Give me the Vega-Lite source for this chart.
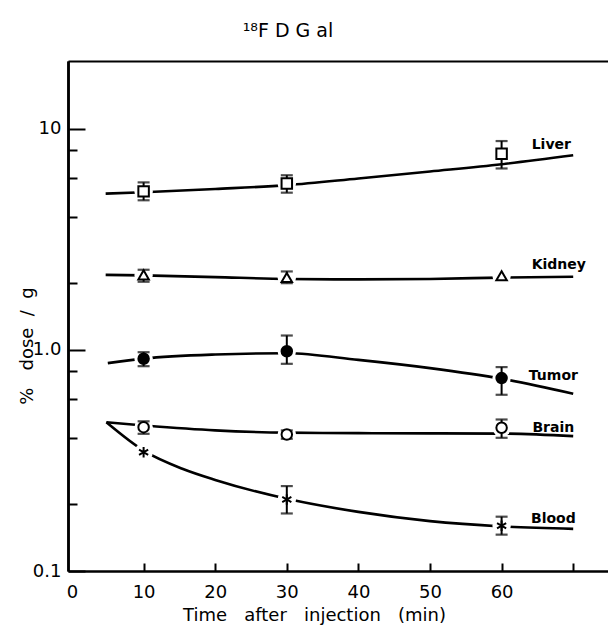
{
  "$schema": "https://vega.github.io/schema/vega-lite/v6.json",
  "width": 540,
  "height": 510,
  "autosize": {"type": "none"},
  "padding": {"left": 68, "top": 61, "right": 0, "bottom": 60},
  "background": "white",
  "title": {"text": "¹⁸F\u00a0D\u00a0G\u00a0al", "font": "DejaVu Sans", "fontSize": 19, "fontWeight": "normal", "color": "black", "anchor": "middle", "dx": -50, "offset": 5, "baseline": "alphabetic"},
  "datasets": {
    "curves": [
      {"organ": "Liver", "t": 4.7, "v": 5.08}, {"organ": "Liver", "t": 10, "v": 5.15}, {"organ": "Liver", "t": 20, "v": 5.33}, {"organ": "Liver", "t": 30, "v": 5.55}, {"organ": "Liver", "t": 40, "v": 5.95}, {"organ": "Liver", "t": 50, "v": 6.4}, {"organ": "Liver", "t": 60, "v": 6.9}, {"organ": "Liver", "t": 70, "v": 7.57},
      {"organ": "Kidney", "t": 4.7, "v": 2.18}, {"organ": "Kidney", "t": 10, "v": 2.17}, {"organ": "Kidney", "t": 20, "v": 2.13}, {"organ": "Kidney", "t": 30, "v": 2.09}, {"organ": "Kidney", "t": 40, "v": 2.08}, {"organ": "Kidney", "t": 50, "v": 2.09}, {"organ": "Kidney", "t": 60, "v": 2.12}, {"organ": "Kidney", "t": 70, "v": 2.14},
      {"organ": "Tumor", "t": 5, "v": 0.87}, {"organ": "Tumor", "t": 10, "v": 0.912}, {"organ": "Tumor", "t": 20, "v": 0.952}, {"organ": "Tumor", "t": 30, "v": 0.965}, {"organ": "Tumor", "t": 40, "v": 0.9}, {"organ": "Tumor", "t": 50, "v": 0.826}, {"organ": "Tumor", "t": 60, "v": 0.74}, {"organ": "Tumor", "t": 70, "v": 0.633},
      {"organ": "Brain", "t": 4.8, "v": 0.47}, {"organ": "Brain", "t": 10, "v": 0.455}, {"organ": "Brain", "t": 20, "v": 0.432}, {"organ": "Brain", "t": 30, "v": 0.422}, {"organ": "Brain", "t": 40, "v": 0.42}, {"organ": "Brain", "t": 50, "v": 0.419}, {"organ": "Brain", "t": 60, "v": 0.418}, {"organ": "Brain", "t": 70, "v": 0.407},
      {"organ": "Blood", "t": 4.8, "v": 0.47}, {"organ": "Blood", "t": 10, "v": 0.35}, {"organ": "Blood", "t": 15.5, "v": 0.289}, {"organ": "Blood", "t": 20, "v": 0.258}, {"organ": "Blood", "t": 30, "v": 0.212}, {"organ": "Blood", "t": 40, "v": 0.185}, {"organ": "Blood", "t": 50, "v": 0.168}, {"organ": "Blood", "t": 60, "v": 0.159}, {"organ": "Blood", "t": 70, "v": 0.155}
    ],
    "points": [
      {"organ": "Liver", "t": 10, "v": 5.2, "lo": 4.74, "hi": 5.71},
      {"organ": "Liver", "t": 30, "v": 5.65, "lo": 5.13, "hi": 6.15},
      {"organ": "Liver", "t": 60, "v": 7.7, "lo": 6.6, "hi": 8.78},
      {"organ": "Kidney", "t": 10, "v": 2.18, "lo": 2.03, "hi": 2.3},
      {"organ": "Kidney", "t": 30, "v": 2.12, "lo": 2.0, "hi": 2.26},
      {"organ": "Kidney", "t": 60, "v": 2.16, "lo": null, "hi": null},
      {"organ": "Tumor", "t": 10, "v": 0.911, "lo": 0.843, "hi": 0.975},
      {"organ": "Tumor", "t": 30, "v": 0.985, "lo": 0.864, "hi": 1.16},
      {"organ": "Tumor", "t": 60, "v": 0.745, "lo": 0.626, "hi": 0.835},
      {"organ": "Brain", "t": 10, "v": 0.447, "lo": 0.417, "hi": 0.475},
      {"organ": "Brain", "t": 30, "v": 0.414, "lo": 0.396, "hi": 0.432},
      {"organ": "Brain", "t": 60, "v": 0.444, "lo": 0.4, "hi": 0.484},
      {"organ": "Blood", "t": 10, "v": 0.344, "lo": null, "hi": null},
      {"organ": "Blood", "t": 30, "v": 0.2105, "lo": 0.182, "hi": 0.242},
      {"organ": "Blood", "t": 60, "v": 0.16, "lo": 0.146, "hi": 0.176}
    ],
    "labels": [
      {"organ": "Liver", "t": 64.2, "v": 8.4},
      {"organ": "Kidney", "t": 64.2, "v": 2.41},
      {"organ": "Tumor", "t": 63.8, "v": 0.758},
      {"organ": "Brain", "t": 64.3, "v": 0.443},
      {"organ": "Blood", "t": 64.1, "v": 0.172}
    ]
  },
  "layer": [
    {
      "data": {"name": "curves"},
      "mark": {"type": "line", "color": "black", "strokeWidth": 2.6, "interpolate": "monotone"},
      "encoding": {
        "x": {"field": "t", "type": "quantitative", "scale": {"domain": [-0.56, 74.86], "nice": false, "zero": false},
          "axis": {"orient": "bottom", "values": [0, 10, 20, 30, 40, 50, 60, 70], "labelExpr": "datum.value == 70 ? '' : datum.label", "tickSize": -8, "tickWidth": 2, "tickOpacity": {"condition": {"test": "datum.value == 0", "value": 0}, "value": 1}, "labelPadding": 20, "labelBaseline": "top", "domainWidth": 2.5, "title": "Time\u00a0\u00a0\u00a0after\u00a0\u00a0\u00a0injection\u00a0\u00a0\u00a0(min)", "titleX": 246, "titleY": 44, "titleBaseline": "middle", "titleAlign": "center"}},
        "y": {"field": "v", "type": "quantitative", "scale": {"type": "log", "domain": [0.1, 20.2], "nice": false},
          "axis": {"orient": "left", "values": [0.2, 0.4, 0.6, 0.8, 2, 4, 6, 8], "labels": false, "tickSize": -9, "tickWidth": 2, "domainWidth": 2.5, "title": "%\u00a0\u00a0\u00a0dose\u00a0\u00a0/\u00a0\u00a0g", "titleX": -41, "titleY": 284.5, "titleAngle": 270, "titleBaseline": "middle", "titleAlign": "center"}},
        "detail": {"field": "organ"}
      }
    },
    {
      "data": {"name": "points"},
      "mark": {"type": "point", "shape": "circle", "filled": true, "color": "white", "size": 340, "opacity": 1},
      "encoding": {
        "x": {"field": "t", "type": "quantitative", "axis": {"orient": "top", "labels": false, "ticks": false, "title": null, "domainWidth": 2, "domainColor": "black"}},
        "y": {"field": "v", "type": "quantitative", "axis": {"orient": "left", "values": [0.1, 1, 10], "labelExpr": "datum.value == 1 ? '1.0' : datum.label", "tickSize": -17, "tickWidth": 2, "labelPadding": 24, "domainWidth": 2.5, "title": null}}
      }
    },
    {
      "data": {"name": "points"},
      "transform": [{"filter": "isValid(datum.lo)"}],
      "mark": {"type": "rule", "color": "black", "strokeWidth": 2},
      "encoding": {
        "x": {"field": "t", "type": "quantitative", "axis": null},
        "y": {"field": "lo", "type": "quantitative", "axis": null},
        "y2": {"field": "hi"}
      }
    },
    {
      "data": {"name": "points"},
      "transform": [{"filter": "isValid(datum.lo)"}],
      "mark": {"type": "tick", "orient": "horizontal", "color": "black", "size": 12, "thickness": 2.2},
      "encoding": {
        "x": {"field": "t", "type": "quantitative", "axis": null},
        "y": {"field": "lo", "type": "quantitative", "axis": null}
      }
    },
    {
      "data": {"name": "points"},
      "transform": [{"filter": "isValid(datum.hi)"}],
      "mark": {"type": "tick", "orient": "horizontal", "color": "black", "size": 12, "thickness": 2.2},
      "encoding": {
        "x": {"field": "t", "type": "quantitative", "axis": null},
        "y": {"field": "hi", "type": "quantitative", "axis": null}
      }
    },
    {
      "data": {"name": "points"},
      "mark": {"type": "point", "stroke": "black", "strokeWidth": 2, "size": 110, "opacity": 1},
      "encoding": {
        "x": {"field": "t", "type": "quantitative", "axis": null},
        "y": {"field": "v", "type": "quantitative", "axis": null},
        "shape": {"field": "organ", "type": "nominal", "legend": null,
          "scale": {"domain": ["Liver", "Kidney", "Tumor", "Brain", "Blood"], "range": ["square", "triangle-up", "circle", "circle", "M0,-1L0,1M-0.87,-0.5L0.87,0.5M-0.87,0.5L0.87,-0.5"]}},
        "fill": {"field": "organ", "type": "nominal", "legend": null,
          "scale": {"domain": ["Liver", "Kidney", "Tumor", "Brain", "Blood"], "range": ["white", "white", "black", "white", "white"]}}
      }
    },
    {
      "data": {"name": "labels"},
      "mark": {"type": "text", "align": "left", "baseline": "middle", "font": "DejaVu Sans", "fontSize": 14, "fontWeight": "bold", "color": "black"},
      "encoding": {
        "x": {"field": "t", "type": "quantitative", "axis": null},
        "y": {"field": "v", "type": "quantitative", "axis": null},
        "text": {"field": "organ"}
      }
    }
  ],
  "resolve": {"axis": {"x": "independent", "y": "independent"}},
  "config": {
    "view": {"stroke": null},
    "axis": {"grid": false, "domainColor": "black", "tickColor": "black", "labelColor": "black", "titleColor": "black", "labelFont": "DejaVu Sans", "labelFontSize": 18, "titleFont": "DejaVu Sans", "titleFontSize": 18, "titleFontWeight": "normal"}
  }
}
